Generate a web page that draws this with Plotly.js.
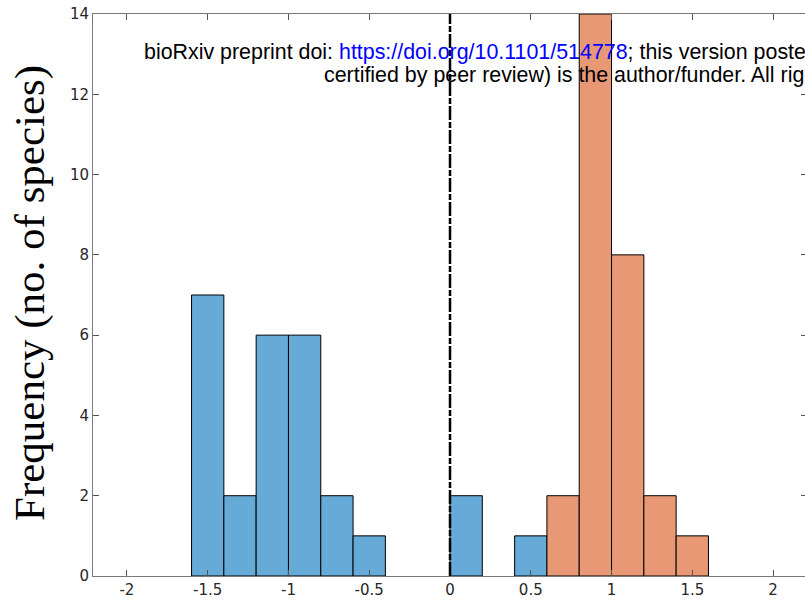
<!DOCTYPE html>
<html>
<head>
<meta charset="utf-8">
<script src="https://cdn.plot.ly/plotly-3.0.1.min.js"></script>
<style>
html,body{margin:0;padding:0;overflow:hidden;background:#fff;}
#wrap{width:805px;height:607px;overflow:hidden;}
#chart{width:807px;height:607px;}
</style>
</head>
<body>
<div id="wrap"><div id="chart"></div></div>
<script>
// Data (bin width 0.2)
const blueCenters = [-1.5, -1.3, -1.1, -0.9, -0.7, -0.5, 0.1, 0.5];
const blueCounts  = [7, 2, 6, 6, 2, 1, 2, 1];
const orangeCenters = [0.7, 0.9, 1.1, 1.3, 1.5];
const orangeCounts  = [2, 14, 8, 2, 1];
const binWidth = 0.2;

const xTickVals = [-2, -1.5, -1, -0.5, 0, 0.5, 1, 1.5, 2];
const xTickText = ['-2', '-1.5', '-1', '-0.5', '0', '0.5', '1', '1.5', '2'];
const yTickVals = [0, 2, 4, 6, 8, 10, 12, 14];
const yTickText = ['0', '2', '4', '6', '8', '10', '12', '14'];

const yTitle = 'Frequency (no. of species)';
const line1a = 'bioRxiv preprint doi: ';
const line1link = 'https://doi.org/10.1101/514778';
const line1b = '; this version poste';
const line2 = 'certified by peer review) is the author/funder. All rig';

const traces = [
  {
    type: 'bar', x: blueCenters, y: blueCounts,
    width: blueCenters.map(() => binWidth),
    marker: {color: '#66AAD7', line: {color: '#000000', width: 1}},
    hoverinfo: 'x+y'
  },
  {
    type: 'bar', x: orangeCenters, y: orangeCounts,
    width: orangeCenters.map(() => binWidth),
    marker: {color: '#E89875', line: {color: '#000000', width: 1}},
    hoverinfo: 'x+y'
  }
];

const axisCommon = {
  showline: true, linecolor: '#7a7a7a', linewidth: 1,
  mirror: 'ticks', ticks: 'inside', ticklen: 6, tickwidth: 1, tickcolor: '#555',
  showgrid: false, zeroline: false,
  tickfont: {family: 'DejaVu Sans', size: 15, color: '#262626'}
};

const L = 93, R = 0, T = 14, B = 31, W = 807, H = 607;
const plotW = W - L - R;
function px2paper(px){ return (px - L) / plotW; }
function py2paper(py){ return 1 - (py - T) / (H - T - B); }

const layout = {
  width: W, height: H,
  margin: {l: L, r: R, t: T, b: B, pad: 0},
  paper_bgcolor: '#ffffff', plot_bgcolor: '#ffffff',
  showlegend: false, barmode: 'overlay',
  xaxis: Object.assign({}, axisCommon, {
    range: [-2.21, 2.21], tickvals: xTickVals, ticktext: xTickText
  }),
  yaxis: Object.assign({}, axisCommon, {
    range: [0, 14], tickvals: yTickVals, ticktext: yTickText
  }),
  shapes: [{
    type: 'line', xref: 'x', yref: 'y', x0: 0, x1: 0, y0: 0, y1: 14,
    line: {color: '#000000', width: 2.5, dash: '14px,2px,6px,2px'}, layer: 'above'
  }],
  annotations: [
    {
      xref: 'paper', yref: 'paper', x: px2paper(30), y: py2paper(293),
      xanchor: 'center', yanchor: 'middle', textangle: -90, showarrow: false,
      text: yTitle,
      font: {family: 'Liberation Serif', size: 43, color: '#000000'}
    },
    {
      xref: 'paper', yref: 'paper', x: px2paper(142), y: py2paper(52),
      xanchor: 'left', yanchor: 'middle', showarrow: false,
      text: line1a + '<span style="color:#0000ff">' + line1link + '</span>' + line1b,
      font: {family: 'Liberation Sans', size: 21.4, color: '#000000'}
    },
    {
      xref: 'paper', yref: 'paper', x: px2paper(322), y: py2paper(75),
      xanchor: 'left', yanchor: 'middle', showarrow: false,
      text: line2,
      font: {family: 'Liberation Sans', size: 21.4, color: '#000000'}
    }
  ]
};

Plotly.newPlot('chart', traces, layout, {staticPlot: true, displayModeBar: false});
</script>
</body>
</html>
